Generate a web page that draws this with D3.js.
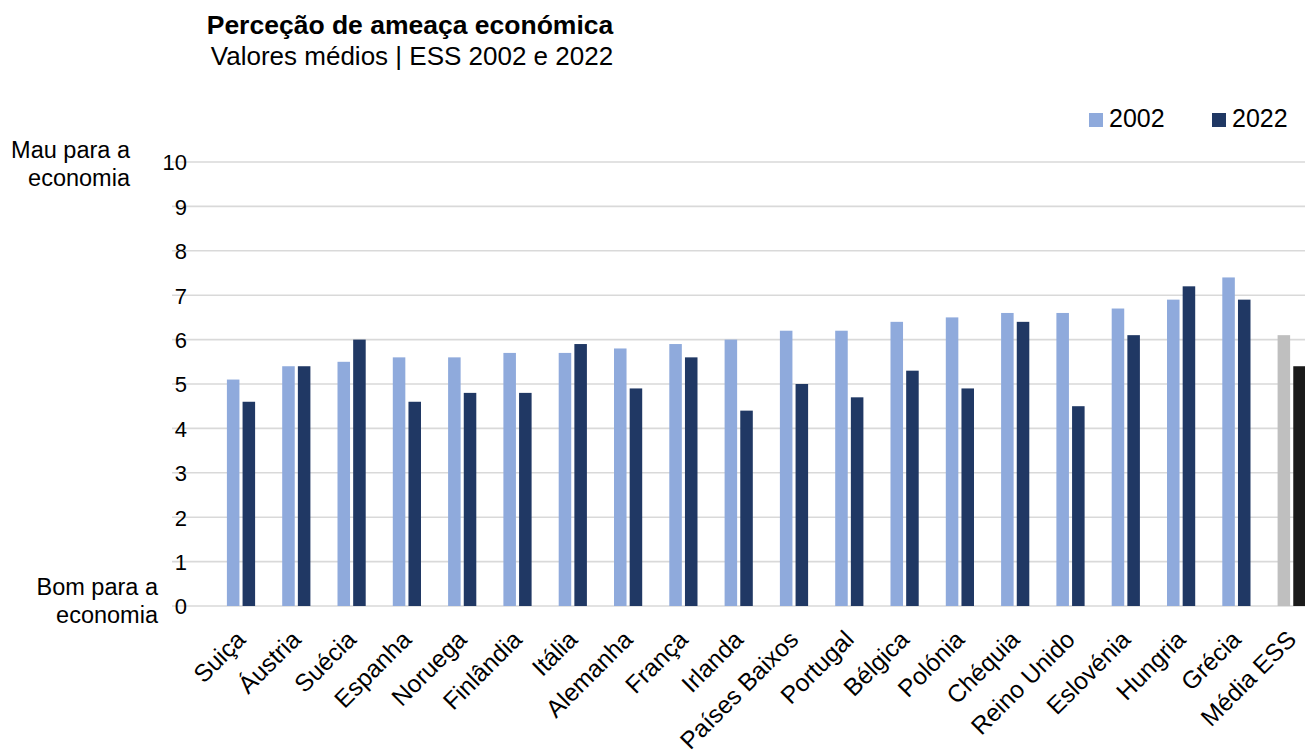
<!DOCTYPE html>
<html lang="pt">
<head>
<meta charset="utf-8">
<script src="https://cdn.jsdelivr.net/npm/d3@7"></script>
<style>
  html, body { margin: 0; padding: 0; background: #fff; }
  svg { display: block; font-family: "Liberation Sans", Arial, Helvetica, sans-serif; }
</style>
</head>
<body>
<svg id="chart" width="1305" height="755"></svg>
<script>
// Países ordenados pela média de 2002
const countries = ["Suiça", "Áustria", "Suécia", "Espanha", "Noruega", "Finlândia", "Itália",
  "Alemanha", "França", "Irlanda", "Países Baixos", "Portugal", "Bélgica", "Polónia",
  "Chéquia", "Reino Unido", "Eslovénia", "Hungria", "Grécia", "Média ESS"];
const years = ["2002", "2022"];
const values2002 = [5.1, 5.4, 5.5, 5.6, 5.6, 5.7, 5.7, 5.8, 5.9, 6.0, 6.2, 6.2, 6.4, 6.5, 6.6, 6.6, 6.7, 6.9, 7.4, 6.1];
const values2022 = [4.6, 5.4, 6.0, 4.6, 4.8, 4.8, 5.9, 4.9, 5.6, 4.4, 5.0, 4.7, 5.3, 4.9, 6.4, 4.5, 6.1, 7.2, 6.9, 5.4];
const yTicks = [0, 1, 2, 3, 4, 5, 6, 7, 8, 9, 10];
const averageLabel = "Média ESS";

const svg = d3.select("#chart");

const y = d3.scaleLinear().domain([0, 10]).range([606, 162]);
const step = 55.3;
const x0 = d3.scaleBand().domain(countries)
  .range([241 - step / 2, 241 - step / 2 + step * countries.length])
  .paddingInner(0.49).paddingOuter(0.245);
const x1 = d3.scaleBand().domain(years).range([0, x0.bandwidth()]).paddingInner(0.2);

const colors = { "2002": "#8FAADC", "2022": "#203864" };
const avgColors = { "2002": "#BFBFBF", "2022": "#1A1A1A" };

// Grelha horizontal
svg.append("g").selectAll("line").data(yTicks).join("line")
  .attr("x1", 172).attr("x2", 1305)
  .attr("y1", d => y(d)).attr("y2", d => y(d))
  .attr("stroke", "#D9D9D9").attr("stroke-width", 1.6);

// Eixo Y
const yAxis = svg.append("g").attr("transform", "translate(187,0)")
  .call(d3.axisLeft(y).tickValues(yTicks).tickSize(0).tickPadding(0).tickFormat(d3.format("d")));
yAxis.select(".domain").remove();
yAxis.selectAll("text").attr("font-size", 22).attr("fill", "#000")
  .attr("font-family", "Liberation Sans, Arial, sans-serif").attr("dy", "0.36em");

// Barras
const rows = countries.map((c, i) => ({ country: c, vals: [
  { year: "2002", v: values2002[i] }, { year: "2022", v: values2022[i] }] }));

const groups = svg.append("g").selectAll("g").data(rows).join("g")
  .attr("transform", d => `translate(${x0(d.country)},0)`);
groups.selectAll("rect").data(d => d.vals.map(v => ({ ...v, country: d.country }))).join("rect")
  .attr("x", d => x1(d.year))
  .attr("width", x1.bandwidth())
  .attr("y", d => y(d.v))
  .attr("height", d => y(0) - y(d.v))
  .attr("fill", d => d.country === averageLabel ? avgColors[d.year] : colors[d.year]);

// Rótulos do eixo X (rodados)
svg.append("g").selectAll("text").data(countries).join("text")
  .attr("transform", d => `translate(${x0(d) + x0.bandwidth() / 2 + 6},641) rotate(-45)`)
  .attr("text-anchor", "end")
  .attr("font-size", 24.5)
  .attr("fill", "#000")
  .text(d => d);

// Títulos do eixo Y
const axisNotes = [
  { lines: ["Mau para a", "economia"], x: 130, y: 158 },
  { lines: ["Bom para a", "economia"], x: 158, y: 595 }
];
axisNotes.forEach(n => {
  const t = svg.append("text").attr("text-anchor", "end").attr("font-size", 23.5).attr("fill", "#000");
  n.lines.forEach((l, i) => t.append("tspan").attr("x", n.x).attr("y", n.y + i * 28).text(l));
});

// Título
svg.append("text").attr("x", 410).attr("y", 34).attr("text-anchor", "middle")
  .attr("font-size", 26.5).attr("font-weight", "bold").attr("fill", "#000")
  .text("Perceção de ameaça económica");
svg.append("text").attr("x", 412).attr("y", 65).attr("text-anchor", "middle")
  .attr("font-size", 26).attr("fill", "#000")
  .text("Valores médios | ESS 2002 e 2022");

// Legenda
const legend = svg.append("g");
const legendItems = [{ year: "2002", x: 1089 }, { year: "2022", x: 1212 }];
legend.selectAll("rect").data(legendItems).join("rect")
  .attr("x", d => d.x).attr("y", 113).attr("width", 14).attr("height", 14)
  .attr("fill", d => colors[d.year]);
legend.selectAll("text").data(legendItems).join("text")
  .attr("x", d => d.x + 20).attr("y", 127)
  .attr("font-size", 25).attr("fill", "#000")
  .text(d => d.year);
</script>
</body>
</html>
